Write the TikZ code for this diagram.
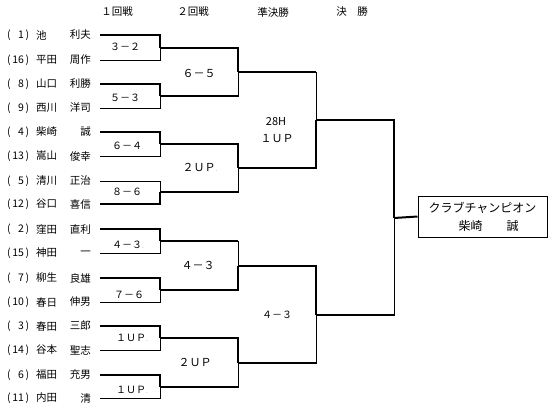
\documentclass[tikz,border=0pt]{standalone}
\usepackage{fontspec}
\setmainfont{Noto Sans CJK JP}
\begin{document}
\begin{tikzpicture}[x=1pt,y=-1pt,
  thk/.style={line width=2pt},
  thn/.style={line width=1pt},
  nm/.style={inner sep=0pt, font=\fontsize{10.5}{12}\selectfont},
  hd/.style={inner sep=0pt, font=\fontsize{10.5}{12}\selectfont},
  sc/.style={inner sep=0pt, font=\fontsize{10}{12}\selectfont},
  scb/.style={inner sep=0pt, font=\fontsize{11}{13}\selectfont},
  champ/.style={draw, line width=1pt, minimum width=129pt, minimum height=41pt, inner sep=0pt, align=center, font=\fontsize{12}{18}\selectfont}]
\useasboundingbox[fill=white] (0,0) rectangle (553,410);
\newcommand\gdot{\textcolor{gray}{\fontsize{6}{6}\selectfont .}}
% headers
\node[hd] (h1) at (117,12) {１回戦};
\node[hd] (h2) at (193,12) {２回戦};
\node[hd] (h3) at (273,12) {準決勝};
\node[hd] (h4) at (352,12) {決　勝};
% players
\foreach \n/\s/\g/\y/\k in {
  \hphantom{0}1/池/利夫/35/a, 16/平田/周作/60/b,
  \hphantom{0}8/山口/利勝/84/c, \hphantom{0}9/西川/洋司/108/d,
  \hphantom{0}4/柴崎/誠/132/e, 13/嵩山/俊幸/156/f,
  \hphantom{0}5/清川/正治/181/g, 12/谷口/喜信/204/h,
  \hphantom{0}2/窪田/直利/229/i, 15/神田/一/253/j,
  \hphantom{0}7/柳生/良雄/278/k, 10/春日/伸男/302/l,
  \hphantom{0}3/春田/三郎/326/m, 14/谷本/聖志/350/n,
  \hphantom{0}6/福田/充男/375/o, 11/内田/清/398/p}{
  \node[nm, anchor=west] (num\k) at (7,\y) {(\makebox[15pt][r]{\n\,})};
  \node[nm, anchor=west] (sur\k) at (36,\y) {\s};
  \node[nm, anchor=east] (giv\k) at (91,\y) {\g};
  \coordinate (p\k) at (100,\y);
}
% round 1 outputs
\coordinate (r1a) at (160,48);
\coordinate (r1b) at (160,96);
\coordinate (r1c) at (160,144);
\coordinate (r1d) at (160,192);
\coordinate (r1e) at (160,241);
\coordinate (r1f) at (160,290);
\coordinate (r1g) at (160,338);
\coordinate (r1h) at (160,387);
% round 2 outputs
\coordinate (r2a) at (238,72);
\coordinate (r2b) at (238,168);
\coordinate (r2c) at (238,266);
\coordinate (r2d) at (238,363);
% semi outputs
\coordinate (s1) at (316,120);
\coordinate (s2) at (316,315);
% final
\coordinate (fo) at (394,218);
% round 1
\draw[thn] (pb) -| (r1a); \draw[thk] (pa) -| (r1a);
\draw[thn] (pd) -| (r1b); \draw[thk] (pc) -| (r1b);
\draw[thn] (pf) -| (r1c); \draw[thk] (pe) -| (r1c);
\draw[thn] (pg) -| (r1d); \draw[thk] (ph) -| (r1d);
\draw[thn] (pj) -| (r1e); \draw[thk] (pi) -| (r1e);
\draw[thn] (pl) -| (r1f); \draw[thk] (pk) -| (r1f);
\draw[thn] (pn) -| (r1g); \draw[thk] (pm) -| (r1g);
\draw[thn] (pp) -| (r1h); \draw[thk] (po) -| (r1h);
% round 2
\draw[thn] (r1b) -| (r2a); \draw[thk] (r1a) -| (r2a); \draw[thk] (r1b) -- ++(78,0);
\draw[thn] (r1d) -| (r2b); \draw[thk] (r1c) -| (r2b); \draw[thk] (r1d) -- ++(78,0);
\draw[thn] (r1e) -| (r2c); \draw[thk] (r1f) -| (r2c); \draw[thk] (r1e) -- ++(78,0);
\draw[thn] (r1h) -| (r2d); \draw[thk] (r1g) -| (r2d); \draw[thk] (r1h) -- ++(78,0);
% semi
\draw[thn] (r2a) -| (s1); \draw[thk] (r2b) -| (s1); \draw[thk] (r2a) -- ++(78,0);
\draw[thn] (r2d) -| (s2); \draw[thk] (r2c) -| (s2); \draw[thk] (r2d) -- ++(78,0);
% final
\draw[thn] (s2) -| (fo); \draw[thk] (s1) -| (fo); \draw[thk] (s2) -- ++(78,0);
\node[champ] (ch) at (482.5,216.5) {クラブチャンピオン\\　柴崎　　誠};
\draw[thk] (fo) -- (ch.west);
% round 1 scores
\node[sc] (m1) at (125,47) {３－２};
\node[sc] (m2) at (125,98) {５－３};
\node[sc] (m3) at (127,146) {６－４\rlap{\gdot}};
\node[sc] (m4) at (127,192) {８－６};
\node[sc] (m5) at (127,245) {４－３\rlap{\gdot}};
\node[sc] (m6) at (129,295) {７－６};
\node[sc] (m7) at (131,338) {１ＵＰ\rlap{\gdot}};
\node[sc] (m8) at (131,390) {１ＵＰ\rlap{\gdot}};
% round 2 scores
\node[scb] (q1) at (199,73) {６－５};
\node[scb] (q2) at (199,167) {２ＵＰ\rlap{\gdot}};
\node[scb] (q3) at (198,265) {４－３};
\node[scb] (q4) at (195,362) {２ＵＰ};
% semi scores
\node[scb] (sa) at (276,122) {28H};
\node[scb] (sb) at (277,139) {１ＵＰ};
\node[sc] (sc2) at (277,315) {４－３};
\end{tikzpicture}
\end{document}
